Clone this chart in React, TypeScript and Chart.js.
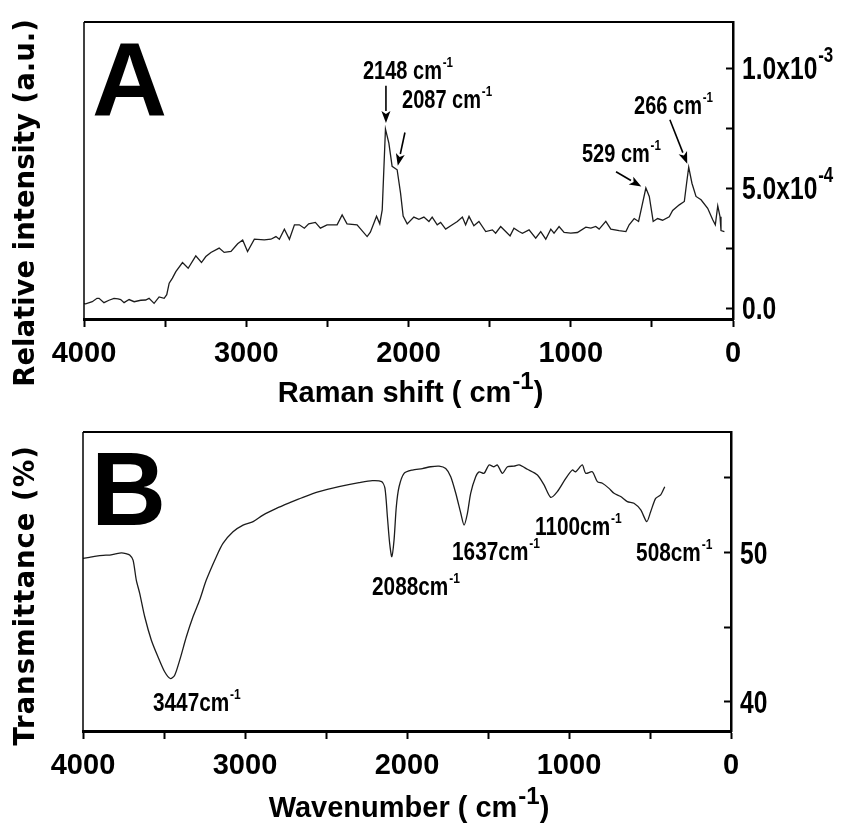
import React, { useEffect, useRef } from "react";
import { Chart, registerables } from "chart.js";
Chart.register(...registerables);

const FONT = "'Liberation Sans', Arial, Helvetica, sans-serif";
const TITLE_FONT = "'DejaVu Sans', Verdana, sans-serif";

// ---------- Panel A: Raman ----------
const ramanShift = [
  4000, 3990, 3949, 3920, 3907, 3877, 3846, 3815, 3790, 3774, 3753, 3722, 3691, 3650, 3620, 3599, 3568, 3537, 3506,
  3490, 3475, 3455, 3434, 3393, 3358, 3311, 3276, 3249, 3218, 3167, 3136, 3094, 3053, 3022, 2992, 2950, 2889, 2848,
  2817, 2796, 2765, 2734, 2703, 2673, 2642, 2615, 2574, 2543, 2502, 2440, 2409, 2379, 2317, 2255, 2235, 2197, 2177,
  2162, 2142, 2121, 2101, 2070, 2049, 2033, 2008, 1967, 1936, 1905, 1874, 1854, 1823, 1802, 1771, 1730, 1699, 1668,
  1648, 1627, 1597, 1566, 1524, 1483, 1463, 1432, 1401, 1374, 1350, 1319, 1298, 1257, 1216, 1185, 1154, 1123, 1103,
  1072, 1041, 1000, 959, 907, 876, 846, 825, 784, 753, 702, 660, 640, 609, 582, 562, 537, 516, 492, 465, 434, 393,
  372, 331, 300, 286, 273, 253, 228, 197, 156, 125, 109, 94, 80, 74, 53,
];
// relative intensity in units of 1e-4
const ramanIntensityE4 = [
  0.18, 0.17, 0.26, 0.4, 0.4, 0.22, 0.32, 0.4, 0.38, 0.35, 0.22, 0.35, 0.26, 0.32, 0.33, 0.4, 0.19, 0.46, 0.4,
  0.55, 1.03, 1.24, 1.51, 1.89, 1.65, 2.17, 1.89, 2.14, 2.31, 2.49, 2.31, 2.35, 2.67, 2.83, 2.35, 2.86, 2.83, 2.86,
  2.97, 2.86, 3.28, 2.86, 3.46, 3.46, 3.32, 3.5, 3.56, 3.32, 3.46, 3.46, 3.875, 3.5, 3.46, 2.97, 3.15, 3.82, 3.5,
  4.08, 7.44, 6.86, 5.89, 5.75, 4.78, 3.82, 3.5, 3.78, 3.69, 3.78, 3.6, 3.78, 3.46, 3.56, 3.28, 3.46, 3.6, 3.78,
  3.46, 3.81, 3.42, 3.6, 3.18, 3.25, 3.11, 3.39, 3.18, 3.0, 3.32, 3.18, 3.11, 3.25, 2.9, 3.18, 2.86, 3.28, 3.11,
  3.39, 3.14, 3.11, 3.14, 3.36, 3.32, 3.39, 3.28, 3.6, 3.28, 3.22, 3.18, 3.46, 3.72, 3.6, 4.22, 4.99, 4.64, 3.6, 3.72, 3.65, 3.79,
  4.06, 4.29, 4.43, 5.19, 5.86, 5.19, 4.64, 4.5, 4.15, 3.67, 3.46, 4.25, 3.8, 3.22, 3.18,
];
const ramanYTickValues = [0, 2.5e-4, 5e-4, 7.5e-4, 1e-3];
const ramanYLabelValues = [0, 5e-4, 1e-3];
const ramanYLabelBase = ["0.0", "5.0x10", "1.0x10"];
const ramanYLabelSup = ["", "-4", "-3"];
const ramanPeakText = ["2148 cm", "2087 cm", "529 cm", "266 cm"];
const ramanPeakAt = [
  { x: 2281, y: 9.54e-4 },
  { x: 2040, y: 8.33e-4 },
  { x: 931, y: 6.08e-4 },
  { x: 610, y: 8.08e-4 },
];
const ramanArrows = [
  { x1: 2139, y1: 9.25e-4, x2: 2139, y2: 7.7e-4 },
  { x1: 2022, y1: 7.3e-4, x2: 2066, y2: 5.92e-4 },
  { x1: 721, y1: 5.67e-4, x2: 565, y2: 5.05e-4 },
  { x1: 389, y1: 7.83e-4, x2: 282, y2: 6.0e-4 },
];

// ---------- Panel B: FTIR ----------
const ftirWavenumber = [
  4000, 3960, 3918, 3875, 3835, 3800, 3763, 3735, 3712, 3691, 3671, 3650, 3619, 3578, 3537, 3496, 3461, 3434, 3403,
  3362, 3321, 3280, 3239, 3177, 3136, 3074, 3012, 2950, 2889, 2806, 2724, 2642, 2543, 2420, 2296, 2214, 2156, 2136,
  2121, 2107, 2094, 2080, 2066, 2049, 2018, 1967, 1905, 1854, 1802, 1761, 1730, 1699, 1668, 1648, 1627, 1607, 1576,
  1555, 1524, 1494, 1463, 1442, 1411, 1380, 1339, 1308, 1257, 1195, 1154, 1113, 1072, 1020, 979, 959, 918, 897, 856,
  825, 794, 753, 722, 681, 640, 599, 557, 520, 496, 465, 434, 409,
];
const ftirTransmittance = [
  49.58, 49.65, 49.73, 49.78, 49.8, 49.88, 49.95, 49.9, 49.8, 49.46, 48.12, 47.23, 45.66, 44.09, 42.97, 41.97, 41.52,
  41.74, 42.75, 44.32, 45.66, 46.78, 48.12, 49.69, 50.58, 51.36, 51.81, 52.04, 52.48, 52.93, 53.31, 53.67, 54.05,
  54.38, 54.65, 54.79, 54.72, 54.27, 52.37, 50.58, 49.69, 50.8, 53.04, 54.38, 55.28, 55.5, 55.6, 55.72, 55.76, 55.6,
  55.05, 53.94, 52.6, 51.81, 52.6, 53.94, 55.05, 55.38, 55.28, 55.84, 55.72, 55.84, 55.28, 55.72, 55.76, 55.84, 55.55,
  55.17, 54.5, 53.67, 54.05, 54.94, 55.5, 55.38, 55.84, 55.28, 55.38, 54.72, 54.61, 54.27, 53.94, 53.72, 53.38, 53.27,
  52.82, 52.04, 52.7, 53.6, 53.83, 54.38,
];
const ftirYTickValues = [40, 45, 50, 55];
const ftirYLabelValues = [40, 50];
const ftirYLabelBase = ["40", "50"];
const ftirYLabelSup = ["", ""];
const ftirPeakText = ["3447cm", "2088cm", "1637cm", "1100cm", "508cm"];
const ftirPeakAt = [
  { x: 3568, y: 39.33 },
  { x: 2216, y: 47.11 },
  { x: 1722, y: 49.46 },
  { x: 1210, y: 51.14 },
  { x: 586, y: 49.4 },
];

// ---------- shared x axis ----------
const xMajorTicks = [4000, 3000, 2000, 1000, 0];
const xMinorTicks = [3500, 2500, 1500, 500];

type Pt = { x: number; y: number };
type Arrow = { x1: number; y1: number; x2: number; y2: number };
type PanelSpec = {
  letter: string;
  xs: number[];
  ys: number[];
  tension: number;
  yMin: number;
  yMax: number;
  yTicks: number[];
  yLabelValues: number[];
  yLabelBase: string[];
  yLabelSup: string[];
  peakText: string[];
  peakAt: Pt[];
  peakScale: number;
  arrows: Arrow[];
  yTitle: string;
  yTitleCenter: number;
  yTitleSpacing: number;
  xTitle: string;
  area: { left: number; top: number; right: number; bottom: number };
  height: number;
};

function drawSup(
  ctx: CanvasRenderingContext2D,
  base: string,
  sup: string,
  tail: string,
  x: number,
  y: number,
  size: number,
  supSize: number,
  sx: number,
  rise: number,
  align: "left" | "center"
) {
  ctx.save();
  ctx.font = `bold ${size}px ${FONT}`;
  const wb = ctx.measureText(base).width;
  const wt = tail ? ctx.measureText(tail).width : 0;
  ctx.font = `bold ${supSize}px ${FONT}`;
  const ws = sup ? ctx.measureText(sup).width : 0;
  const total = (wb + ws + wt + (sup ? 1 : 0)) * sx;
  const x0 = align === "center" ? x - total / 2 : x;
  ctx.translate(x0, y);
  ctx.scale(sx, 1);
  ctx.textAlign = "left";
  ctx.textBaseline = "alphabetic";
  ctx.fillStyle = "#000";
  ctx.font = `bold ${size}px ${FONT}`;
  ctx.fillText(base, 0, 0);
  if (sup) {
    ctx.font = `bold ${supSize}px ${FONT}`;
    ctx.fillText(sup, wb + 1, -rise);
  }
  if (tail) {
    ctx.font = `bold ${size}px ${FONT}`;
    ctx.fillText(tail, wb + ws + 1, 0);
  }
  ctx.restore();
}

function drawArrow(ctx: CanvasRenderingContext2D, x1: number, y1: number, x2: number, y2: number) {
  const ang = Math.atan2(y2 - y1, x2 - x1);
  const head = 12;
  const hw = 4.5;
  const bx = x2 - head * Math.cos(ang);
  const by = y2 - head * Math.sin(ang);
  ctx.save();
  ctx.strokeStyle = "#000";
  ctx.fillStyle = "#000";
  ctx.lineWidth = 1.6;
  ctx.beginPath();
  ctx.moveTo(x1, y1);
  ctx.lineTo(bx, by);
  ctx.stroke();
  ctx.beginPath();
  ctx.moveTo(x2, y2);
  ctx.lineTo(bx + hw * Math.sin(ang), by - hw * Math.cos(ang));
  ctx.lineTo(bx + 3 * Math.cos(ang), by + 3 * Math.sin(ang));
  ctx.lineTo(bx - hw * Math.sin(ang), by + hw * Math.cos(ang));
  ctx.closePath();
  ctx.fill();
  ctx.restore();
}

function makeDecor(p: PanelSpec) {
  return {
    id: "panelDecor",
    afterDraw(chart: any) {
      const { ctx, chartArea: a, scales } = chart;
      const xs = scales.x;
      const ys = scales.y;
      ctx.save();
      // frame top & left
      ctx.strokeStyle = "#000";
      ctx.lineWidth = 2;
      ctx.beginPath();
      ctx.moveTo(a.left, a.top);
      ctx.lineTo(a.right, a.top);
      ctx.stroke();
      ctx.lineWidth = 1.5;
      ctx.beginPath();
      ctx.moveTo(a.left, a.top);
      ctx.lineTo(a.left, a.bottom);
      ctx.stroke();
      // inward ticks on the right axis
      ctx.lineWidth = 2;
      p.yTicks.forEach((v) => {
        const py = Math.round(ys.getPixelForValue(v)) + 0.5;
        ctx.beginPath();
        ctx.moveTo(a.right, py);
        ctx.lineTo(a.right - 7, py);
        ctx.stroke();
      });
      // right axis labels
      p.yLabelValues.forEach((v, i) => {
        const py = ys.getPixelForValue(v);
        drawSup(ctx, p.yLabelBase[i], p.yLabelSup[i], "", a.right + 9, py + 11.5, 32, 22, 0.77, 17, "left");
      });
      // panel letter
      ctx.fillStyle = "#000";
      ctx.font = `bold 104px ${FONT}`;
      ctx.textAlign = "left";
      ctx.textBaseline = "alphabetic";
      ctx.fillText(p.letter, a.left + 8, a.top + 93);
      // peak labels
      p.peakText.forEach((t, i) => {
        const px = xs.getPixelForValue(p.peakAt[i].x);
        const py = ys.getPixelForValue(p.peakAt[i].y);
        drawSup(ctx, t, "-1", "", px, py, 26, 15, p.peakScale, 12, "left");
      });
      p.arrows.forEach((ar) => {
        drawArrow(
          ctx,
          xs.getPixelForValue(ar.x1),
          ys.getPixelForValue(ar.y1),
          xs.getPixelForValue(ar.x2),
          ys.getPixelForValue(ar.y2)
        );
      });
      // x title
      drawSup(ctx, p.xTitle, "-1", ")", (a.left + a.right) / 2 + 2, 402, 29, 24, 1.0, 13, "center");
      // y title (left, rotated)
      ctx.save();
      ctx.translate(27, p.yTitleCenter);
      ctx.rotate(-Math.PI / 2);
      ctx.font = `bold 27.5px ${TITLE_FONT}`;
      (ctx as any).letterSpacing = `${p.yTitleSpacing}px`;
      ctx.textAlign = "center";
      ctx.textBaseline = "middle";
      ctx.fillStyle = "#000";
      ctx.fillText(p.yTitle, p.yTitleSpacing / 2, 0);
      ctx.restore();
      ctx.restore();
    },
  };
}

function makeConfig(p: PanelSpec): any {
  const allX = [...xMajorTicks, ...xMinorTicks].sort((a, b) => b - a);
  return {
    type: "line",
    data: {
      datasets: [
        {
          data: p.xs.map((x, i) => ({ x, y: p.ys[i] })),
          borderColor: "#1c1c1c",
          borderWidth: 1.3,
          pointRadius: 0,
          tension: p.tension,
          fill: false,
        },
      ],
    },
    options: {
      responsive: false,
      animation: false,
      devicePixelRatio: 1,
      layout: { padding: { left: p.area.left, top: p.area.top, right: 0, bottom: 0 } },
      plugins: { legend: { display: false }, tooltip: { enabled: false }, title: { display: false } },
      scales: {
        x: {
          type: "linear",
          position: "bottom",
          reverse: true,
          min: 0,
          max: 4000,
          afterBuildTicks: (s: any) => {
            s.ticks = allX.map((v) => ({ value: v }));
          },
          afterFit: (s: any) => {
            s.height = p.height - p.area.bottom;
          },
          ticks: {
            autoSkip: false,
            maxRotation: 0,
            padding: 10,
            color: "#000",
            font: { family: FONT, size: 29, weight: "bold" },
            callback: (v: number) => (xMajorTicks.includes(v) ? String(v) : ""),
          },
          grid: { drawOnChartArea: false, drawTicks: true, tickLength: 8, tickWidth: 2, tickColor: "#000" },
          border: { display: true, width: 3, color: "#000" },
        },
        y: {
          type: "linear",
          position: "right",
          min: p.yMin,
          max: p.yMax,
          afterBuildTicks: (s: any) => {
            s.ticks = p.yTicks.map((v) => ({ value: v }));
          },
          afterFit: (s: any) => {
            s.width = 842 - p.area.right;
          },
          ticks: { display: false },
          grid: { drawOnChartArea: false, drawTicks: false },
          border: { display: true, width: 2.5, color: "#000" },
        },
      },
    },
    plugins: [makeDecor(p)],
  };
}

const panelA: PanelSpec = {
  letter: "A",
  xs: ramanShift,
  ys: ramanIntensityE4.map((v) => v * 1e-4),
  tension: 0,
  yMin: -0.46e-4,
  yMax: 1.19e-3,
  yTicks: ramanYTickValues,
  yLabelValues: ramanYLabelValues,
  yLabelBase: ramanYLabelBase,
  yLabelSup: ramanYLabelSup,
  peakText: ramanPeakText,
  peakAt: ramanPeakAt,
  peakScale: 0.77,
  arrows: ramanArrows,
  yTitle: "Relative intensity (a.u.)",
  yTitleCenter: 203,
  yTitleSpacing: 0,
  xTitle: "Raman shift ( cm",
  area: { left: 84, top: 22, right: 733, bottom: 319 },
  height: 415,
};

const panelB: PanelSpec = {
  letter: "B",
  xs: ftirWavenumber,
  ys: ftirTransmittance,
  tension: 0.25,
  yMin: 38.0,
  yMax: 58.05,
  yTicks: ftirYTickValues,
  yLabelValues: ftirYLabelValues,
  yLabelBase: ftirYLabelBase,
  yLabelSup: ftirYLabelSup,
  peakText: ftirPeakText,
  peakAt: ftirPeakAt,
  peakScale: 0.8,
  arrows: [],
  yTitle: "Transmittance (%)",
  yTitleCenter: 181,
  yTitleSpacing: 1,
  xTitle: "Wavenumber ( cm",
  area: { left: 83, top: 17, right: 731, bottom: 316 },
  height: 414,
};

function Panel({ spec, top }: { spec: PanelSpec; top: number }) {
  const ref = useRef<HTMLCanvasElement>(null);
  useEffect(() => {
    const chart = new Chart(ref.current as HTMLCanvasElement, makeConfig(spec));
    return () => chart.destroy();
  }, [spec]);
  return (
    <canvas
      ref={ref}
      width={842}
      height={spec.height}
      style={{ position: "absolute", left: 0, top, width: 842, height: spec.height }}
    />
  );
}

export default function App() {
  return (
    <div style={{ position: "absolute", left: 0, top: 0, width: 842, height: 829, background: "#fff" }}>
      <Panel spec={panelA} top={0} />
      <Panel spec={panelB} top={415} />
    </div>
  );
}
